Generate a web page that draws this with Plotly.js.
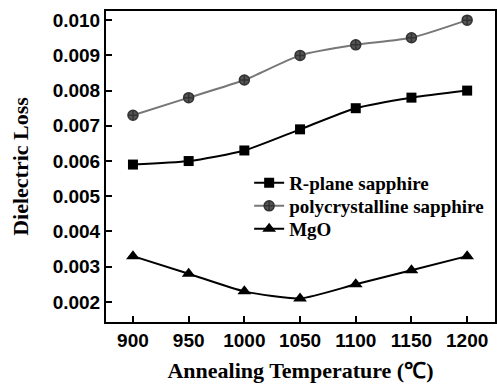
<!DOCTYPE html>
<html><head><meta charset="utf-8">
<script src="https://cdn.plot.ly/plotly-3.0.1.min.js"></script>
<style>body{margin:0;padding:0;background:#fff}#chart{width:497px;height:387px}</style>
</head><body><div id="chart"></div>
<script>
const temps = [900, 950, 1000, 1050, 1100, 1150, 1200];
const rplane = [0.0059, 0.0060, 0.0063, 0.0069, 0.0075, 0.0078, 0.0080];
const poly = [0.0073, 0.0078, 0.0083, 0.0090, 0.0093, 0.0095, 0.0100];
const mgo = [0.0033, 0.0028, 0.0023, 0.0021, 0.0025, 0.0029, 0.0033];
const names = ['R-plane sapphire', 'polycrystalline sapphire', 'MgO'];
const yTicks = [0.002, 0.003, 0.004, 0.005, 0.006, 0.007, 0.008, 0.009, 0.010];
const xTicks = [900, 950, 1000, 1050, 1100, 1150, 1200];

const traces = [
  {x: temps, y: rplane, name: names[0], mode: 'lines+markers', legend: 'legend',
   line: {color: '#000', width: 2, shape: 'spline', smoothing: 0.6},
   marker: {symbol: 'square', size: 10, color: '#000'}},
  {x: temps, y: poly, name: names[1], mode: 'lines+markers', legend: 'legend2',
   line: {color: '#777', width: 2, shape: 'spline', smoothing: 0.6},
   marker: {symbol: 'circle-cross', size: 10, color: '#555', line: {color: '#333', width: 1.5}}},
  {x: temps, y: mgo, name: names[2], mode: 'lines+markers', legend: 'legend3',
   line: {color: '#000', width: 2, shape: 'spline', smoothing: 0.6},
   marker: {symbol: 'triangle-up', size: 12, color: '#000'}}
];

const legFont = {family: 'Liberation Serif', size: 19, color: '#000', weight: 'bold'};
const legBase = {x: 0.368, xanchor: 'left', yanchor: 'middle', bgcolor: 'rgba(0,0,0,0)', font: legFont, itemwidth: 30};

const layout = {
  width: 497, height: 387,
  margin: {l: 106, r: 2, t: 11, b: 65},
  paper_bgcolor: '#fff', plot_bgcolor: '#fff',
  showlegend: true,
  legend: Object.assign({}, legBase, {y: 0.447}),
  legend2: Object.assign({}, legBase, {y: 0.373}),
  legend3: Object.assign({}, legBase, {y: 0.299}),
  xaxis: {range: [875.8, 1225], tickvals: xTicks, ticktext: xTicks.map(String),
    ticks: 'inside', ticklen: 6, tickwidth: 2, tickcolor: '#000',
    showline: true, linewidth: 2, linecolor: '#000', mirror: true, showgrid: false, zeroline: false,
    tickfont: {family: 'Liberation Sans', size: 19, color: '#000', weight: 'bold'},
    title: {text: 'Annealing Temperature (℃)', font: {family: 'Liberation Serif', size: 22, color: '#000', weight: 'bold'}, standoff: 13}},
  yaxis: {range: [0.00143, 0.01026], tickvals: yTicks, ticktext: yTicks.map(v => v.toFixed(3)),
    ticks: 'inside', ticklen: 6, tickwidth: 2, tickcolor: '#000',
    showline: true, linewidth: 2, linecolor: '#000', mirror: true, showgrid: false, zeroline: false,
    tickfont: {family: 'Liberation Sans', size: 19, color: '#000', weight: 'bold'},
    title: {text: 'Dielectric Loss', font: {family: 'Liberation Serif', size: 22, color: '#000', weight: 'bold'}, standoff: 18}}
};
Plotly.newPlot('chart', traces, layout, {displayModeBar: false, staticPlot: true});
</script></body></html>
